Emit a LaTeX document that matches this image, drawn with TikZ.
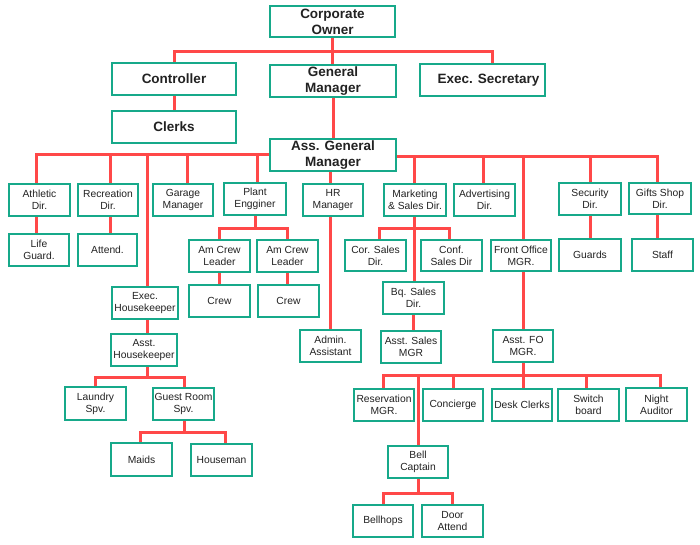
\documentclass[tikz,border=0pt]{standalone}
\usepackage{fontspec}
\setmainfont{Liberation Sans}
\definecolor{boxteal}{HTML}{17A98A}
\definecolor{linered}{HTML}{FF4848}
\definecolor{txt}{HTML}{222222}
\pgfdeclarelayer{background}
\pgfsetlayers{background,main}
\newcommand\bx[7]{\node[#1, minimum width={#5-#3-2}, minimum height={#6-#4-2}] (#2) at ({(#3+#5)/2},{(#4+#6)/2}) {#7};}
\begin{document}
\begin{tikzpicture}[x=1pt,y=-1pt,
  box/.style={draw=boxteal, line width=2.4pt, fill=white, inner sep=0pt, align=center, text=txt, font=\fontsize{10.3}{12}\selectfont},
  big/.style={box, font=\fontsize{13.5}{16}\selectfont\bfseries},
  conn/.style={draw=linered, line width=3pt}]
\useasboundingbox (0,0) rectangle (700,545);
% top level
\bx{big}{owner}{269}{5}{396}{38}{Corporate\\Owner}
\bx{big}{ctrl}{111}{62}{237}{96}{Controller}
\bx{big}{gm}{269}{64}{397}{98}{General\\Manager}
\bx{big}{es}{419}{63}{546}{97}{\hspace*{12pt}Exec. Secretary}
\bx{big}{clerks}{111}{110}{237}{144}{Clerks}
\bx{big}{agm}{269}{138}{397}{172}{Ass. General\\Manager}
% directors
\bx{box}{ath}{8}{183}{71}{217}{Athletic\\Dir.}
\bx{box}{rec}{77}{183}{139}{217}{Recreation\\Dir.}
\bx{box}{gar}{152}{183}{214}{217}{Garage\\Manager}
\bx{box}{plant}{223}{182}{287}{216}{Plant\\Engginer}
\bx{box}{hr}{302}{183}{364}{217}{HR\\Manager}
\bx{box}{mkt}{383}{183}{447}{217}{Marketing\\\& Sales Dir.}
\bx{box}{adv}{453}{183}{516}{217}{Advertising\\Dir.}
\bx{box}{sec}{558}{182}{622}{216}{Security\\Dir.}
\bx{box}{gift}{628}{182}{692}{215}{Gifts Shop\\Dir.}
% second row
\bx{box}{life}{8}{233}{70}{267}{Life\\Guard.}
\bx{box}{att}{77}{233}{138}{267}{Attend.}
\bx{box}{acla}{188}{239}{251}{273}{Am Crew\\Leader}
\bx{box}{aclb}{256}{239}{319}{273}{Am Crew\\Leader}
\bx{box}{cor}{344}{239}{407}{272}{Cor. Sales\\Dir.}
\bx{box}{conf}{420}{239}{483}{272}{Conf.\\Sales Dir}
\bx{box}{fo}{490}{239}{552}{272}{Front Office\\MGR.}
\bx{box}{guards}{558}{238}{622}{272}{Guards}
\bx{box}{staff}{631}{238}{694}{272}{Staff}
% third row
\bx{box}{crewa}{188}{284}{251}{318}{Crew}
\bx{box}{crewb}{257}{284}{320}{318}{Crew}
\bx{box}{ehk}{111}{286}{179}{320}{Exec.\\Housekeeper}
\bx{box}{bq}{382}{281}{445}{315}{Bq. Sales\\Dir.}
\bx{box}{ahk}{110}{333}{178}{367}{Asst.\\Housekeeper}
\bx{box}{admin}{299}{329}{362}{363}{Admin.\\Assistant}
\bx{box}{asm}{380}{330}{442}{364}{Asst. Sales\\MGR}
\bx{box}{afo}{492}{329}{554}{363}{Asst. FO\\MGR.}
% lower rows
\bx{box}{laun}{64}{386}{127}{421}{Laundry\\Spv.}
\bx{box}{guest}{152}{387}{215}{421}{Guest Room\\Spv.}
\bx{box}{res}{353}{388}{415}{422}{Reservation\\MGR.}
\bx{box}{conc}{422}{388}{484}{422}{Concierge}
\bx{box}{desk}{491}{388}{553}{422}{Desk Clerks}
\bx{box}{sw}{557}{388}{620}{422}{Switch\\board}
\bx{box}{night}{625}{387}{688}{422}{Night\\Auditor}
\bx{box}{maids}{110}{442}{173}{477}{Maids}
\bx{box}{house}{190}{443}{253}{477}{Houseman}
\bx{box}{bell}{387}{445}{449}{479}{Bell\\Captain}
\bx{box}{hops}{352}{504}{414}{538}{Bellhops}
\bx{box}{door}{421}{504}{484}{538}{Door\\Attend}
\begin{pgfonlayer}{background}
\fill[white] (0,0) rectangle (700,545);
% top
\draw[conn] (owner.south) -- (owner.south |- gm.north);
\draw[conn] (owner.south) -- ++(0,13) -| (ctrl.north);
\draw[conn] (owner.south) -- ++(0,13) -| ([xshift=10pt]es.north);
\draw[conn] (ctrl.south) -- (ctrl.south |- clerks.north);
\draw[conn] (gm.south) -- (gm.south |- agm.north);
% AGM buses
\foreach \n/\s in {ath/-3, rec/2, ehk/2, gar/4, plant/2}
  \draw[conn] (agm.west) -| ([xshift=\s pt]\n.north);
\foreach \n/\s in {mkt/-1, adv/-1, fo/2, sec/0, gift/-3}
  \draw[conn] ([yshift=-2pt]agm.east) -| ([xshift=\s pt]\n.north);
\draw[conn] ([xshift=-3pt]agm.south) -- ([xshift=-3pt]agm.south |- hr.north);
% directors to staff
\draw[conn] ([xshift=-3pt]ath.south) -- ([xshift=-3pt]ath.south |- life.north);
\draw[conn] ([xshift=2pt]rec.south) -- ([xshift=2pt]rec.south |- att.north);
\draw[conn] (plant.south) -- ++(0,12) -| (acla.north);
\draw[conn] (plant.south) -- ++(0,12) -| (aclb.north);
\draw[conn] (acla.south) -- (acla.south |- crewa.north);
\draw[conn] (aclb.south) -- (aclb.south |- crewb.north);
\draw[conn] ([xshift=2pt]ehk.south) -- ([xshift=2pt]ehk.south |- ahk.north);
\draw[conn] ([xshift=3pt]ahk.south) -- ++(0,10) -| (laun.north);
\draw[conn] ([xshift=3pt]ahk.south) -- ++(0,10) -| ([xshift=1pt]guest.north);
\draw[conn] ([xshift=1pt]guest.south) -- ++(0,11) -| ([xshift=-1pt]maids.north);
\draw[conn] ([xshift=1pt]guest.south) -- ++(0,11) -| ([xshift=4pt]house.north);
\draw[conn] ([xshift=-3pt]hr.south) -- ([xshift=-3pt]hr.south |- admin.north);
\draw[conn] ([xshift=-1pt]mkt.south) -- ++(0,11) -| ([xshift=4pt]cor.north);
\draw[conn] ([xshift=-1pt]mkt.south) -- ++(0,11) -| ([xshift=-2pt]conf.north);
\draw[conn] ([xshift=-1pt]mkt.south) -- ([xshift=-1pt]mkt.south |- bq.north);
\draw[conn] ([xshift=-0.5pt]bq.south) -- ([xshift=-0.5pt]bq.south |- asm.north);
\draw[conn] ([xshift=2pt]fo.south) -- ([xshift=2pt]fo.south |- afo.north);
\draw[conn] (sec.south) -- (sec.south |- guards.north);
\draw[conn] ([xshift=-3pt]gift.south) -- ([xshift=-3pt]gift.south |- staff.north);
\foreach \n/\s in {res/-1, conc/0, desk/1, sw/-2, night/4, bell/0}
  \draw[conn] (afo.south) -- ++(0,12) -| ([xshift=\s pt]\n.north);
\draw[conn] (bell.south) -- ++(0,14) -| (hops.north);
\draw[conn] (bell.south) -- ++(0,14) -| (door.north);
\end{pgfonlayer}
\end{tikzpicture}
\end{document}
